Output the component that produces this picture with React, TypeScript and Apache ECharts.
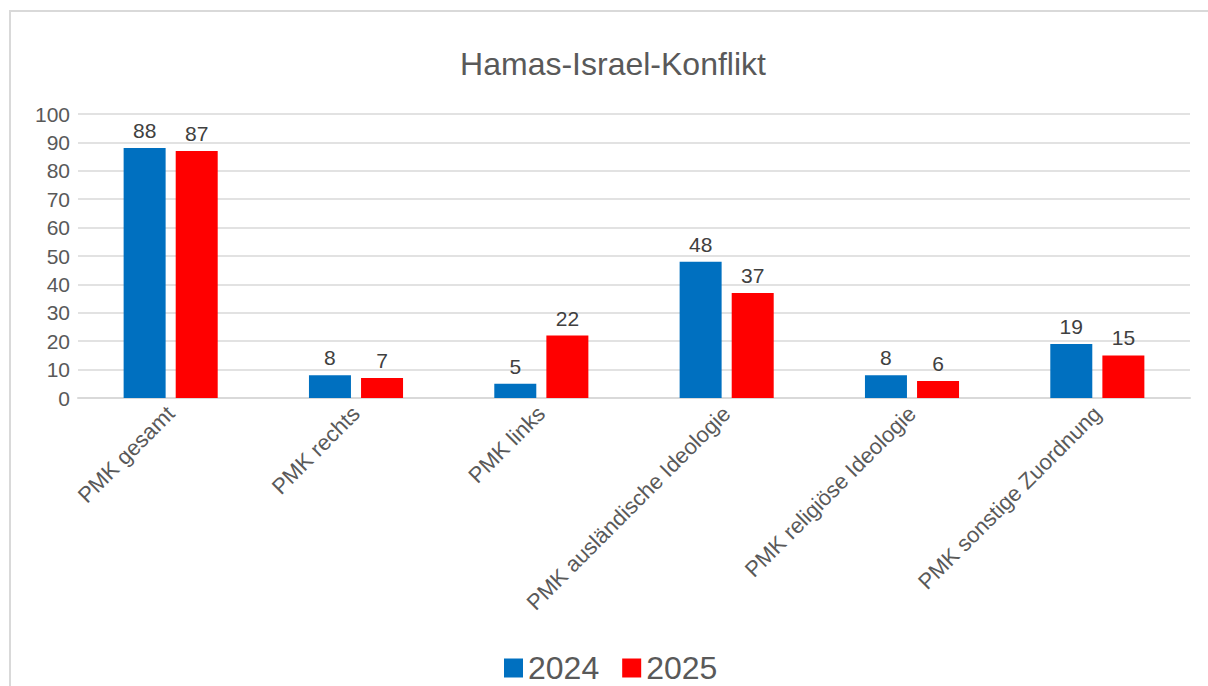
import React, { useEffect, useRef } from "react";
import * as echarts from "echarts";

const title = "Hamas-Israel-Konflikt";
const categories = [
  "PMK gesamt",
  "PMK rechts",
  "PMK links",
  "PMK ausländische Ideologie",
  "PMK religiöse Ideologie",
  "PMK sonstige Zuordnung",
];
const seriesNames = ["2024", "2025"];
const values2024 = [88, 8, 5, 48, 8, 19];
const values2025 = [87, 7, 22, 37, 6, 15];
const colors = ["#0070C0", "#FF0000"];

const FONT = "'Liberation Sans', Arial, sans-serif";

export default function App() {
  const ref = useRef<HTMLDivElement>(null);
  useEffect(() => {
    if (!ref.current) return;
    const chart = echarts.init(ref.current, undefined, { renderer: "svg" });
    const label = {
      show: true,
      position: "top",
      distance: 7,
      fontSize: 21,
      color: "#404040",
      fontFamily: FONT,
    };
    chart.setOption({
      animation: false,
      backgroundColor: "#ffffff",
      textStyle: { fontFamily: FONT },
      title: {
        text: title,
        left: 608,
        textAlign: "center",
        top: 43,
        textStyle: { fontSize: 32, fontWeight: "normal", color: "#595959", fontFamily: FONT },
      },
      graphic: [
        {
          type: "rect",
          shape: { x: 10, y: 11, width: 1220, height: 700 },
          style: { fill: "none", stroke: "#d9d9d9", lineWidth: 2 },
          silent: true,
        },
      ],
      legend: {
        data: seriesNames,
        left: 499,
        top: 647,
        itemWidth: 19,
        itemHeight: 19,
        itemGap: 23,
        icon: "rect",
        textStyle: { fontSize: 32, color: "#595959", fontFamily: FONT },
      },
      grid: { left: 78, right: 18, top: 114, bottom: 288, containLabel: false },
      xAxis: {
        type: "category",
        data: categories,
        axisLine: { show: true, lineStyle: { color: "#d9d9d9", width: 2 } },
        axisTick: { show: false },
        axisLabel: {
          rotate: 45,
          fontSize: 22,
          color: "#595959",
          margin: 12,
          fontFamily: FONT,
          interval: 0,
        },
      },
      yAxis: {
        type: "value",
        min: 0,
        max: 100,
        interval: 10,
        axisLine: { show: false },
        axisTick: { show: false },
        splitLine: { lineStyle: { color: "#d9d9d9", width: 1.5 } },
        axisLabel: { fontSize: 21, color: "#595959", margin: 8, fontFamily: FONT },
      },
      series: [
        {
          name: seriesNames[0],
          type: "bar",
          data: values2024,
          itemStyle: { color: colors[0] },
          barWidth: 42,
          barGap: "24%",
          label,
        },
        {
          name: seriesNames[1],
          type: "bar",
          data: values2025,
          itemStyle: { color: colors[1] },
          barWidth: 42,
          barGap: "24%",
          label,
        },
      ],
    });
    return () => chart.dispose();
  }, []);
  return (
    <div
      ref={ref}
      style={{ position: "fixed", left: 0, top: 0, width: 1208, height: 686 }}
    />
  );
}
